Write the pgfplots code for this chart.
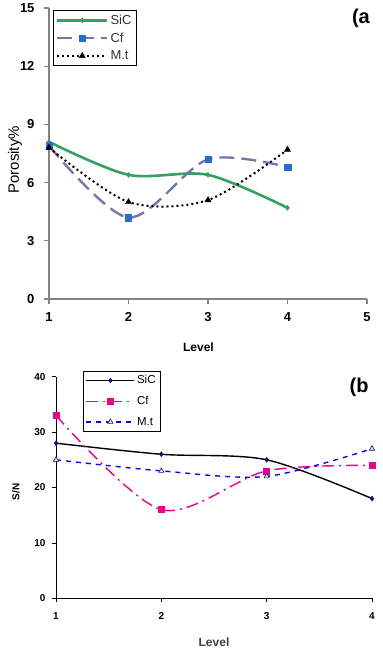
\documentclass[border=0pt]{standalone}
\usepackage{fontspec}
\setmainfont{Liberation Sans}
\usepackage{pgfplots}
\pgfplotsset{compat=1.18}

\definecolor{sicgreen}{RGB}{52,160,98}
\definecolor{cfline}{RGB}{118,118,172}
\definecolor{cfmark}{RGB}{38,110,200}
\definecolor{axgray}{RGB}{130,130,130}
\definecolor{navy}{RGB}{20,20,110}
\definecolor{mtblue}{RGB}{10,10,220}
\definecolor{tri}{RGB}{250,240,120}

\begin{document}
\begin{tikzpicture}[x=1pt,y=1pt]
\useasboundingbox (0,0) rectangle (383,649);

% ---- (a) porosity ----
\begin{axis}[
  at={(49pt,350pt)}, anchor=origin,
  scale only axis, width=318pt, height=291pt,
  xmin=1, xmax=5, ymin=0, ymax=15,
  xtick={1,2,3,4,5}, ytick={0,3,6,9,12,15},
  axis x line=bottom, axis y line=left,
  axis line style={-, axgray, line width=1.6pt},
  tick style={axgray, line width=1.2pt},
  tick align=outside, major tick length=5pt,
  /pgf/number format/assume math mode=true,
  tick label style={font=\fontsize{13}{14}\selectfont\bfseries},
  xticklabel style={yshift=-5pt},
  yticklabel style={xshift=-6pt},
  xlabel={\bfseries Level},
  xlabel style={font=\fontsize{12}{13}\selectfont, at={(axis description cs:0.47,0)}, anchor=center, yshift=-48pt},
  ylabel={Porosity\%},
  ylabel style={font=\fontsize{15}{16}\selectfont, at={(axis description cs:-0.107,0.478)}, anchor=center},
  clip=false,
  legend cell align=left,
  legend style={at={(0.013,0.993)}, anchor=north west, draw=black, line width=0.6pt,
    font=\fontsize{13}{14}\selectfont, text=black!80, row sep=3pt, inner sep=2.5pt},
  legend image code/.code={
    \draw[#1] (6pt,0pt) -- (56pt,0pt);
    \draw[#1,solid] plot coordinates {(31pt,0pt)};
  },
]
\addplot[sicgreen, line width=2.6pt, smooth, tension=0.5,
  mark=diamond*, mark size=2.5pt, mark options={solid, line width=0.5pt}]
  coordinates {(1,8.1) (2,6.4) (3,6.4) (4,4.7)};
\addlegendentry{SiC}
\addplot[cfline, line width=2.4pt, dash pattern=on 15pt off 7pt, smooth, tension=0.5,
  mark=square*, mark size=3.2pt, mark options={solid, cfmark, line width=0.4pt}]
  coordinates {(1,7.9) (2,4.2) (3,7.2) (4,6.8)};
\addlegendentry{Cf}
\addplot[black, line width=2pt, dash pattern=on 2pt off 3pt, smooth, tension=0.5,
  mark=triangle*, mark size=3.5pt, mark options={solid, line width=0.4pt}]
  coordinates {(1,7.8) (2,5.0) (3,5.1) (4,7.7)};
\addlegendentry{M.t}
\node[anchor=north east, font=\fontsize{20}{22}\selectfont\bfseries]
  at (rel axis cs:1.02,1.01) {(a};
\end{axis}

% ---- (b) signal-to-noise ----
\begin{axis}[
  at={(56pt,50.7pt)}, anchor=origin,
  scale only axis, width=316pt, height=221.6pt,
  xmin=1, xmax=4, ymin=0, ymax=40,
  xtick={1,2,3,4}, ytick={0,10,20,30,40},
  axis x line=bottom, axis y line=left,
  axis line style={-, black, line width=0.6pt},
  tick style={black, line width=0.6pt},
  tick align=outside, major tick length=4pt,
  /pgf/number format/assume math mode=true,
  tick label style={font=\fontsize{10}{11}\selectfont\bfseries},
  xticklabel style={yshift=-7pt},
  yticklabel style={xshift=-3pt},
  xlabel={\bfseries Level},
  xlabel style={font=\fontsize{12}{13}\selectfont, text=black!75, at={(axis description cs:0.5,0)}, anchor=center, yshift=-43.5pt},
  ylabel={\bfseries S/N},
  ylabel style={font=\fontsize{10}{11}\selectfont, at={(axis description cs:-0.127,0.48)}, anchor=center},
  clip=false,
  legend cell align=left,
  legend style={at={(0.085,1.027)}, anchor=north west, draw=black, line width=0.6pt,
    font=\fontsize{11.5}{12}\selectfont, row sep=7pt, inner sep=2.5pt},
  legend image code/.code={
    \draw[#1] (0pt,0pt) -- (48pt,0pt);
    \draw[#1,solid] plot coordinates {(24pt,0pt)};
  },
]
\addplot[black, line width=1.4pt, smooth, tension=0.5,
  mark=diamond*, mark size=2.5pt, mark options={solid, navy, line width=0.4pt}]
  coordinates {(1,28) (2,26) (3,25) (4,18)};
\addlegendentry{SiC}
\addplot[magenta, line width=1.4pt, dash pattern=on 12pt off 5pt on 2pt off 5pt, smooth, tension=0.5,
  mark=square*, mark size=3pt, mark options={solid, line width=0.4pt}]
  coordinates {(1,33) (2,16) (3,23) (4,24)};
\addlegendentry{Cf}
\addplot[mtblue, line width=1.4pt, dash pattern=on 5pt off 5pt, smooth, tension=0.5,
  mark=triangle*, mark size=3pt, mark options={solid, fill=tri, draw=mtblue, line width=0.6pt}]
  coordinates {(1,25) (2,23) (3,22) (4,27)};
\addlegendentry{M.t}
\node[anchor=north east, font=\fontsize{20}{22}\selectfont\bfseries]
  at (rel axis cs:1.0,1.01) {(b};
\end{axis}
\end{tikzpicture}
\end{document}
